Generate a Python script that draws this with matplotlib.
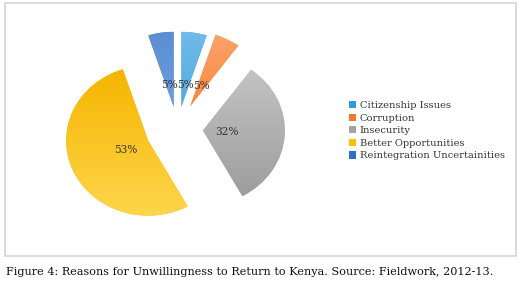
import numpy as np
import matplotlib.pyplot as plt
from matplotlib.patches import Rectangle, Patch
from matplotlib.colors import LinearSegmentedColormap

# data
reasons = ['Citizenship Issues', 'Corruption', 'Insecurity',
           'Better Opportunities', 'Reintegration Uncertainities']
shares = [5, 5, 32, 53, 5]
# (top colour, bottom colour) of each wedge's shading
wedge_shades = [('#6fbbe9', '#56a9df'), ('#fba26a', '#f6893f'),
                ('#c3c3c3', '#9d9d9d'), ('#f6b500', '#fdd64c'),
                ('#5c8ed3', '#6b9fdc')]
legend_colors = ['#2a9ddc', '#f4782e', '#a3a3a3', '#ffc000', '#2f70c6']
explode = [0.30, 0.34, 0.31, 0.39, 0.30]

W, H = 523, 285
fig = plt.figure(figsize=(W / 100, H / 100), dpi=100)
ax = fig.add_axes([0, 0, 1, 1])

wedges, texts, autotexts = ax.pie(
    shares, explode=explode, colors=[s[0] for s in wedge_shades], startangle=90,
    counterclock=False, autopct='%.0f%%', pctdistance=0.3,
    textprops={'family': 'DejaVu Serif', 'fontsize': 7.6, 'color': '#333333',
               'zorder': 5})

# the original picture is stretched a little sideways:
# 1 data unit = 82 px across, 75 px down; pie centre at pixel (177.5, 129)
rx, ry, cx, cy = 82, 75, 177.5, 129
ax.set_aspect('auto')
ax.axis('off')

# vertical shading inside every wedge
grad = np.linspace(0, 1, 64).reshape(-1, 1)
for w, (top, bottom) in zip(wedges, wedge_shades):
    ext = w.get_path().get_extents()
    cmap = LinearSegmentedColormap.from_list('s', [top, bottom])
    im = ax.imshow(grad, cmap=cmap, aspect='auto', origin='upper',
                   extent=(ext.x0, ext.x1, ext.y0, ext.y1), zorder=2)
    im.set_clip_path(w)
ax.set_xlim(-cx / rx, (W - cx) / rx)
ax.set_ylim(-(H - cy) / ry, cy / ry)

# chart frame
fig.patches.append(Rectangle((5 / W, 1 - 256 / H), 511 / W, 253 / H,
                             transform=fig.transFigure, fill=False,
                             edgecolor='#d4d4d4', linewidth=1.2))

handles = [Patch(facecolor=c) for c in legend_colors]
fig.legend(handles, reasons, loc='upper left',
           bbox_to_anchor=(344 / W, 1 - 96 / H), frameon=False,
           prop={'family': 'DejaVu Serif', 'size': 7.1},
           handlelength=0.75, handleheight=0.75, handletextpad=0.35,
           labelspacing=0.36, borderpad=0, labelcolor='#333333')

fig.text(6 / W, 1 - 272 / H,
         'Figure 4: Reasons for Unwillingness to Return to Kenya. Source: Fieldwork, 2012-13.',
         family='DejaVu Serif', fontsize=8.12, va='center', color='#111111')

fig.savefig('out.png', dpi=100)
